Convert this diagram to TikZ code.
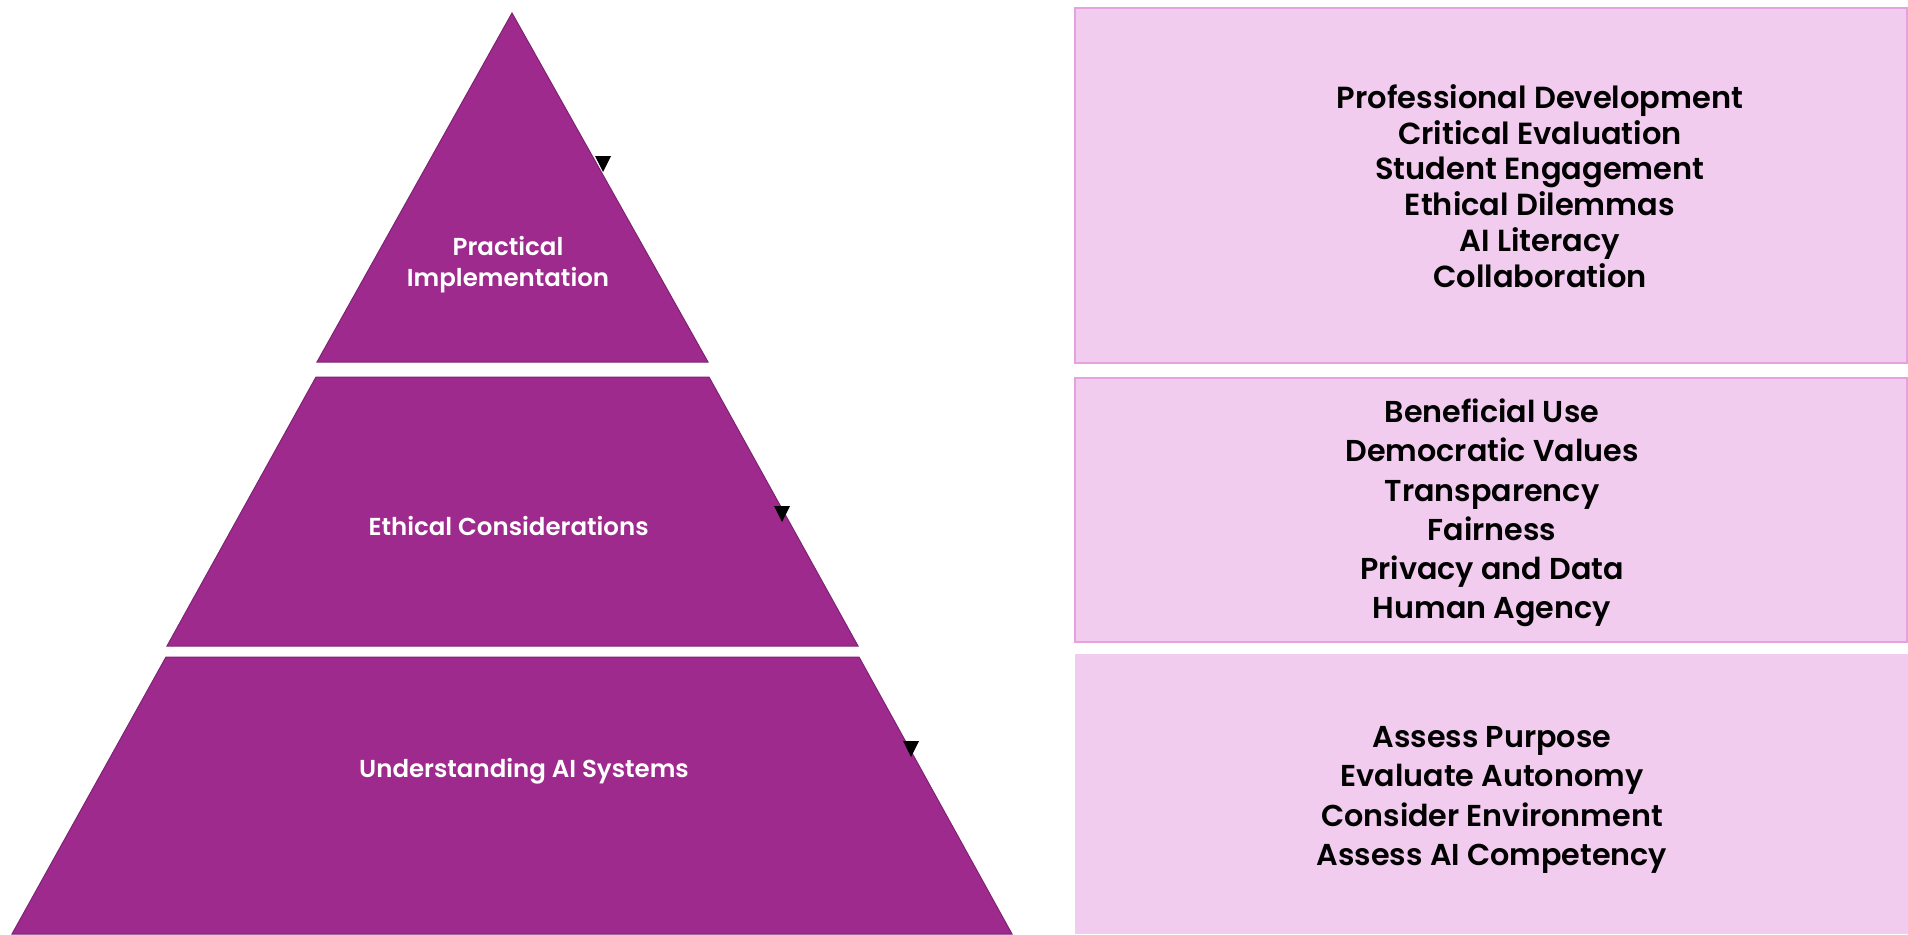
\documentclass[tikz,border=0pt]{standalone}
\usepackage{fontspec}
\setmainfont{Poppins}[BoldFont={Poppins SemiBold}]
\definecolor{tierfill}{HTML}{9E2A8E}
\definecolor{tieredge}{HTML}{7E2272}
\definecolor{panelfill}{HTML}{F2CCEE}
\definecolor{paneledge}{HTML}{E6A1DF}
\tikzset{
  tier/.style={fill=tierfill, draw=tieredge, line width=1pt, line join=miter},
  tierlabel/.style={text=white, font=\fontsize{24.5}{31}\selectfont\bfseries, align=center, inner sep=0pt},
  panel/.style={fill=panelfill, draw=paneledge, line width=2pt},
  panelplain/.style={fill=panelfill, draw=none},
  paneltext/.style={text=black, font=\fontsize{30.2}{39.2}\selectfont\bfseries, align=center, inner sep=0pt},
  tipmark/.style={fill=black, draw=none}
}
\begin{document}
\begin{tikzpicture}[x=1pt, y=-1pt]
  \useasboundingbox (0,0) rectangle (1908,934);

  % pyramid tiers
  \draw[tier] (512,13) -- (708,362) -- (317,362) -- cycle;
  \draw[tier] (316,377) -- (709,377) -- (858,646) -- (167,646) -- cycle;
  \draw[tier] (166,657) -- (859,657) -- (1012,934) -- (12,934) -- cycle;

  \node[tierlabel] (practical) at (508,264.5) {Practical\\Implementation};
  \node[tierlabel] (ethical) at (508.6,526.5) {Ethical Considerations};
  \node[tierlabel] (understanding) at (524,771) {Understanding AI Systems};

  % small downward markers on the right flank
  \coordinate (m1) at (603,172);
  \coordinate (m2) at (782,522);
  \coordinate (m3) at (911,757);
  \foreach \m in {m1,m2,m3}
    \fill[tipmark] (\m) -- ++(-8,-16) -- ++(16,0) -- cycle;

  % detail panels
  \draw[panel] (1075,8) rectangle (1907,363);
  \draw[panel] (1075,378) rectangle (1907,642);
  \fill[panelplain] (1075,654) rectangle (1908,934);

  \node[paneltext, font=\fontsize{30.5}{35.8}\selectfont\bfseries] (practice) at (1540,186)
    {Professional Development\\Critical Evaluation\\Student Engagement\\Ethical Dilemmas\\AI Literacy\\Collaboration};
  \node[paneltext] (ethics) at (1492,513)
    {Beneficial Use\\Democratic Values\\Transparency\\Fairness\\Privacy and Data\\Human Agency};
  \node[paneltext] (systems) at (1492,800)
    {Assess Purpose\\Evaluate Autonomy\\Consider Environment\\Assess AI Competency};
\end{tikzpicture}
\end{document}
